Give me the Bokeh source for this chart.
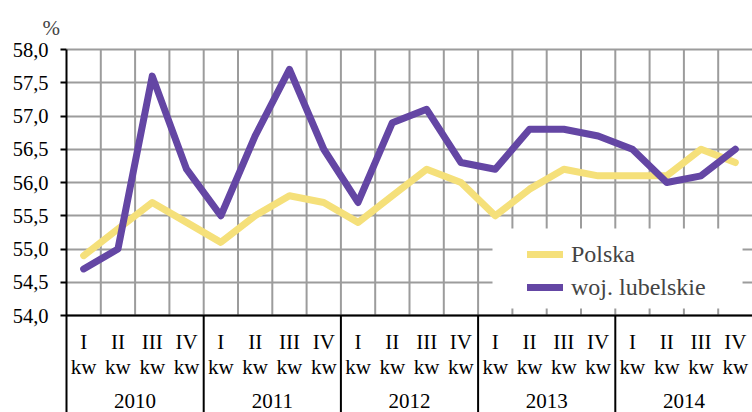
from bokeh.plotting import figure
from bokeh.models import (FactorRange, Range1d, FixedTicker, CustomJSTickFormatter,
                          Span, Legend, LegendItem, BoxAnnotation)
from bokeh.core.properties import value
from bokeh.embed import file_html
from bokeh.resources import INLINE

# ---- data ----
years = ["2010", "2011", "2012", "2013", "2014"]
quarters = ["I", "II", "III", "IV"]
quarter_suffix = "kw"
polska = [54.9, 55.3, 55.7, 55.4, 55.1, 55.5, 55.8, 55.7, 55.4, 55.8,
          56.2, 56.0, 55.5, 55.9, 56.2, 56.1, 56.1, 56.1, 56.5, 56.3]
lubelskie = [54.7, 55.0, 57.6, 56.2, 55.5, 56.7, 57.7, 56.5, 55.7, 56.9,
             57.1, 56.3, 56.2, 56.8, 56.8, 56.7, 56.5, 56.0, 56.1, 56.5]
y_ticks = [54.0, 54.5, 55.0, 55.5, 56.0, 56.5, 57.0, 57.5, 58.0]
series_names = ["Polska", "woj. lubelskie"]
unit_label = "%"

# ---- layout constants ----
FONT = "Liberation Serif"
YELLOW = "#F5E07A"
PURPLE = "#6446A4"
GRID = "#9C9C9C"
PX = 66.5            # pixels per 1.0 on the y axis
Y_MIN, Y_MAX = y_ticks[0], y_ticks[-1]
y_start = Y_MIN - 97 / PX
y_end = Y_MAX + 3 / PX

def below(px):
    """data y for a position px pixels below the x axis line"""
    return Y_MIN - px / PX

factors = [(y, q) for y in years for q in quarters]
n = len(factors)

p = figure(width=752, height=412,
           x_range=FactorRange(*factors, factor_padding=0, group_padding=0,
                               subgroup_padding=0, range_padding=0),
           y_range=Range1d(y_start, y_end),
           x_axis_location=None, y_axis_location="left",
           output_backend="svg", toolbar_location=None,
           min_border_left=66, min_border_right=0,
           min_border_top=46, min_border_bottom=0)
p.outline_line_color = None
p.background_fill_color = "white"

p.title.text = unit_label
p.title.align = "left"
p.title.offset = -24
p.title.text_font = FONT
p.title.text_font_size = "21px"
p.title.text_font_style = "normal"
p.title.standoff = 14

# y axis
ax = p.yaxis[0]
ax.ticker = FixedTicker(ticks=y_ticks)
ax.formatter = CustomJSTickFormatter(code="return tick.toFixed(1).replace('.', ',');")
ax.bounds = (y_start, Y_MAX)
ax.axis_line_color = "black"
ax.axis_line_width = 2
ax.major_tick_line_color = "black"
ax.major_tick_line_width = 2
ax.major_tick_out = 6
ax.major_tick_in = 0
ax.minor_tick_line_color = None
ax.major_label_standoff = 12
ax.major_label_text_font = FONT
ax.major_label_text_font_size = "20.5px"
ax.major_label_text_font_style = "normal"
ax.major_label_text_color = "black"

# grids
p.xgrid.grid_line_color = None
p.ygrid.ticker = FixedTicker(ticks=y_ticks)
p.ygrid.grid_line_color = GRID
p.ygrid.grid_line_width = 2

inner = list(range(1, n))
p.segment(x0=inner, y0=[Y_MIN] * len(inner), x1=inner, y1=[Y_MAX] * len(inner),
          line_color=GRID, line_width=2)

# year separators below axis
seps = list(range(len(quarters), n, len(quarters)))
p.segment(x0=seps, y0=[y_start] * len(seps), x1=seps, y1=[Y_MIN] * len(seps),
          line_color="black", line_width=2)

p.add_layout(Span(location=Y_MIN, dimension="width", line_color="black", line_width=2))

# data lines
r1 = p.line(x=factors, y=polska, line_color=YELLOW, line_width=7,
            line_join="round", line_cap="round")
r2 = p.line(x=factors, y=lubelskie, line_color=PURPLE, line_width=7,
            line_join="round", line_cap="round")

# category labels
p.text(x=factors, y=[below(26)] * n, text=[q for _, q in factors],
       text_align="center", text_baseline="middle",
       text_font=value(FONT), text_font_size=value("21px"), text_color="black")
p.text(x=factors, y=[below(51)] * n, text=[quarter_suffix] * n,
       text_align="center", text_baseline="middle",
       text_font=value(FONT), text_font_size=value("21px"), text_color="black")
p.text(x=years, y=[below(85)] * len(years), text=years,
       text_align="center", text_baseline="middle",
       text_font=value(FONT), text_font_size=value("21px"), text_color="black")

# legend background
p.add_layout(BoxAnnotation(left=12.42, right=19.71, bottom=below(-7), top=below(-87),
                           fill_color="white", fill_alpha=1, line_color=None))
legend = Legend(items=[LegendItem(label=series_names[0], renderers=[r1]),
                       LegendItem(label=series_names[1], renderers=[r2])],
                location=(461, 110), padding=0, margin=0, spacing=3,
                label_height=30, glyph_height=30, glyph_width=36, label_standoff=8,
                label_text_font=FONT, label_text_font_size="24px",
                label_text_font_style="normal",
                background_fill_alpha=0, border_line_color=None)
p.add_layout(legend)

open("out.html", "w").write(file_html(p, INLINE))
